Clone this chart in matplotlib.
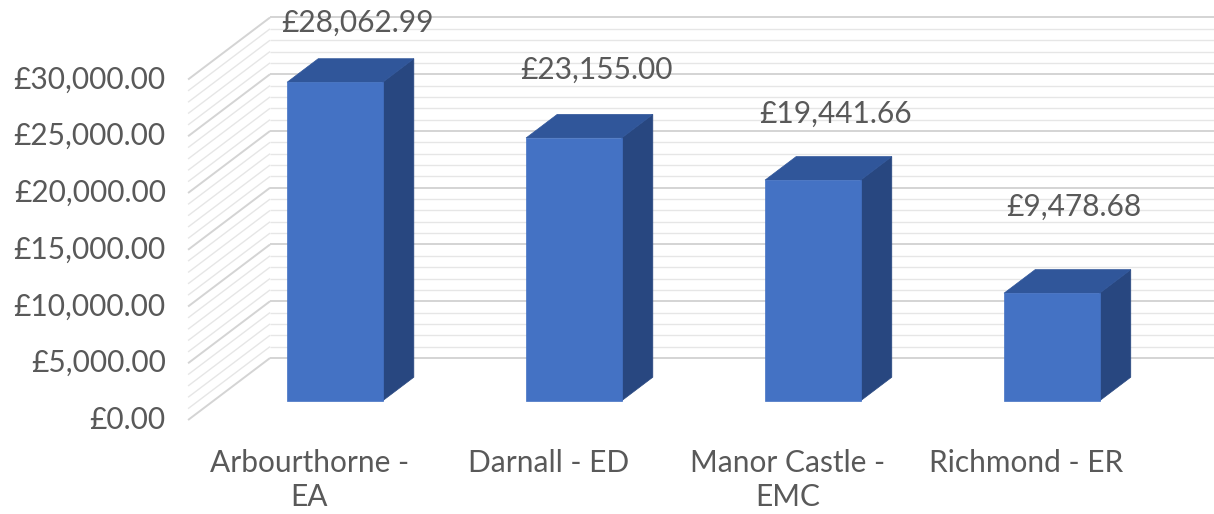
import matplotlib
matplotlib.use('Agg')
import matplotlib.pyplot as plt
from matplotlib.patches import Polygon

# chart data
categories = ['Arbourthorne -\nEA', 'Darnall - ED', 'Manor Castle -\nEMC', 'Richmond - ER']
values = [28062.99, 23155.00, 19441.66, 9478.68]
value_labels = ['£28,062.99', '£23,155.00', '£19,441.66', '£9,478.68']
y_ticks = [0, 5000, 10000, 15000, 20000, 25000, 30000]
y_tick_labels = ['£0.00', '£5,000.00', '£10,000.00', '£15,000.00',
                 '£20,000.00', '£25,000.00', '£30,000.00']

# look of the 3d box
FRONT = '#4472c4'
TOP = '#30569a'
SIDE = '#284780'
TEXT = '#595959'
FONT = 'Lato'
FS = 21.5

depth_dx = 0.343      # floor front -> back wall, in category units
depth_dy = 5463.0     # same, in pound units
bar_w = 0.40
bar_d0, bar_d1 = 0.31, 0.69   # bars sit in the middle of the floor depth
wall_left = -0.508
wall_top = 30000

fig = plt.figure(figsize=(12.14, 5.14), dpi=100)
ax = fig.add_axes([0, 0, 1, 1])
ax.set_xlim(-1.295, 3.785)
ax.set_ylim(-8282, 37004)
ax.axis('off')


def proj(x, v, d):
    # oblique projection: d = 0 front of floor, d = 1 back wall
    return (x + depth_dx * d, v + depth_dy * d)


# walls gridlines, minor every 1000, major every 5000
for v in range(0, wall_top + 1, 1000):
    major = v % 5000 == 0
    col = '#d4d4d4' if major else '#e6e6e6'
    lw = 1.4 if major else 1.0
    p0 = proj(wall_left, v, 0)
    p1 = proj(wall_left, v, 1)
    ax.plot([p0[0], p1[0]], [p0[1], p1[1]], color=col, lw=lw, zorder=1,
            solid_capstyle='butt')
    ax.plot([p1[0], 4.5], [p1[1], p1[1]], color=col, lw=lw, zorder=1,
            solid_capstyle='butt')

# bars
for i, v in enumerate(values):
    x0 = i - bar_w / 2
    x1 = i + bar_w / 2
    front = [proj(x0, 0, bar_d0), proj(x1, 0, bar_d0), proj(x1, v, bar_d0), proj(x0, v, bar_d0)]
    top = [proj(x0, v, bar_d0), proj(x1, v, bar_d0), proj(x1, v, bar_d1), proj(x0, v, bar_d1)]
    side = [proj(x1, 0, bar_d0), proj(x1, 0, bar_d1), proj(x1, v, bar_d1), proj(x1, v, bar_d0)]
    ax.add_patch(Polygon(side, closed=True, fc=SIDE, ec=SIDE, lw=0.5, zorder=3))
    ax.add_patch(Polygon(top, closed=True, fc=TOP, ec=TOP, lw=0.5, zorder=3))
    ax.add_patch(Polygon(front, closed=True, fc=FRONT, ec=FRONT, lw=0.5, zorder=4))

# value labels above bars (extra lift per label, in pound units)
label_dy = [5220, 5970, 5820, 7570]
for i, v in enumerate(values):
    ax.text(i + 0.2, v + label_dy[i] + depth_dy * bar_d0, value_labels[i],
            ha='center', va='center', fontsize=FS, color=TEXT, family=FONT, zorder=5)

# y axis labels along the front edge of the side wall
for v, lab in zip(y_ticks, y_tick_labels):
    ax.text(wall_left - 0.093, v, lab, ha='right', va='center',
            fontsize=FS, color=TEXT, family=FONT)

# category labels
for i, c in enumerate(categories):
    ax.text(i, -2530, c, ha='center', va='top', fontsize=FS, color=TEXT,
            family=FONT, linespacing=1.28)

fig.savefig('out.png', dpi=100)
